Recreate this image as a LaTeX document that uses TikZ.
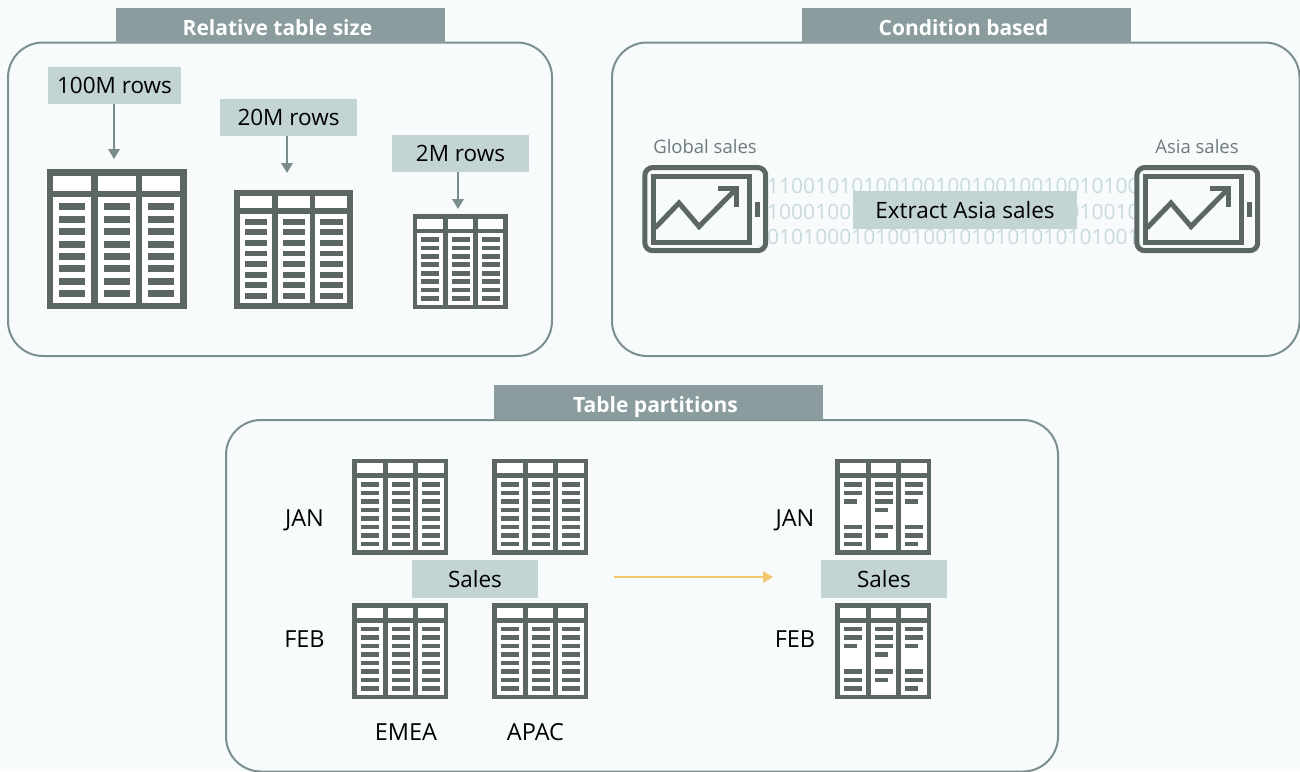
\documentclass[tikz,border=0pt]{standalone}
\usepackage{fontspec}
\setmainfont{Open Sans}
\usetikzlibrary{arrows.meta}
\definecolor{pagebg}{HTML}{F8FBFC}
\definecolor{titlefill}{HTML}{8A9C9E}
\definecolor{boxline}{HTML}{7C8F8F}
\definecolor{tabledark}{HTML}{5B6665}
\definecolor{labelfill}{HTML}{C3D4D4}
\definecolor{arrowgrey}{HTML}{7A8D8B}
\definecolor{arrowyellow}{HTML}{F2C96E}
\definecolor{bitgrey}{HTML}{C8DADA}
\definecolor{captiongrey}{HTML}{6D7B7A}
\newcommand{\tablecells}{
  \fill[tabledark] (0,0) rectangle (140,140);
  \foreach \cx in {6.8,51.5,95.8} {
    \fill[white] (\cx,6.7) rectangle +(37.5,14.7);
    \fill[white] (\cx,28) rectangle +(37.5,105.4);
  }
}
\tikzset{
  panel/.style={draw=boxline,line width=2pt,rounded corners=35pt},
  titlebar/.style={fill=titlefill,text=white,minimum width=329pt,minimum height=35pt,inner sep=0pt,text height=20pt,text depth=0pt,font=\fontsize{21}{25}\selectfont\bfseries,execute at begin node=\kern-6pt},
  rowlabel/.style={fill=labelfill,text=black,minimum height=37.5pt,inner sep=0pt,font=\fontsize{22.5}{27}\selectfont},
  plainlabel/.style={text=black,inner sep=0pt,font=\fontsize{23.5}{28}\selectfont},
  caption/.style={text=captiongrey,inner sep=0pt,font=\fontsize{18.5}{22}\selectfont},
  bits/.style={text=bitgrey,inner sep=0pt,anchor=west,font=\fontsize{21}{25}\selectfont},
  sizearrow/.style={draw=arrowgrey,line width=2pt,-{Triangle[width=11.5pt,length=10pt]}},
  fulltable/.pic={
    \tablecells
    \foreach \cx in {6.8,51.5,95.8}
      \foreach \rw in {0,...,7}
        \fill[tabledark] (\cx+5.7,34+12.4*\rw) rectangle +(26.3,7);
  },
  sparsetable/.pic={
    \tablecells
    \foreach \cx/\longrows/\shortrows in {6.8/{0,1,5,6,7}/{2},51.5/{0,1,2,5}/{3,6},95.8/{0,1,5,6}/{2,7}} {
      \foreach \rw in \longrows
        \fill[tabledark] (\cx+5.7,34+12.4*\rw) rectangle +(26.3,7);
      \foreach \rw in \shortrows
        \fill[tabledark] (\cx+5.7,34+12.4*\rw) rectangle +(19,7);
    }
  },
  tablet/.pic={
    \draw[tabledark,line width=5pt,rounded corners=8pt] (2.8,2.5) rectangle (123.7,85.7);
    \draw[tabledark,line width=5pt] (11.3,11) rectangle (107.2,77.3);
    \fill[tabledark] (113,36.5) rectangle (118,51.5);
    \draw[tabledark,line width=5pt] (13,63) -- (37,38) -- (57,61.5) -- (94,24);
    \draw[tabledark,line width=5pt] (76,23.7) -- (94.7,23.7) -- (94.7,42);
  }
}
\begin{document}
\begin{tikzpicture}[x=1pt,y=-1pt]
  \fill[pagebg] (0,0) rectangle (1300,771);
  \useasboundingbox (0,0) rectangle (1300,771);

  \draw[panel] (8,42.5) rectangle (552,356);
  \draw[panel] (612,42.5) rectangle (1299.5,356);
  \draw[panel] (226,420) rectangle (1058,771.5);
  \node[titlebar] (sizetitle) at (280.5,25.5) {Relative table size};
  \node[titlebar] (conditiontitle) at (966.5,25.5) {Condition based};
  \node[titlebar] (partitiontitle) at (658.5,402.5) {Table partitions};

  \node[rowlabel,minimum width=133pt] (rows100) at (114.5,85.5) {100M rows};
  \node[rowlabel,minimum width=137pt] (rows20) at (288.5,117.5) {20M rows};
  \node[rowlabel,minimum width=137pt] (rows2) at (460.5,153.5) {2M rows};
  \coordinate (tip100) at (114,159);
  \coordinate (tip20) at (287,173);
  \coordinate (tip2) at (458,209);
  \draw[sizearrow] (tip100 |- rows100.south) -- (tip100);
  \draw[sizearrow] (tip20 |- rows20.south) -- (tip20);
  \draw[sizearrow] (tip2 |- rows2.south) -- (tip2);
  \pic at (46.5,169.3) {fulltable};
  \pic[scale=.85] at (234,190) {fulltable};
  \pic[scale=.68] at (412.8,214) {fulltable};

  \node[bits] (bitsa) at (767,186) {1100101010010010010010010010100};
  \node[bits] (bitsb) at (767,212) {1000100110100100101001010010010};
  \node[bits] (bitsc) at (767,237) {0101000101001001010101010101001};
  \node[rowlabel,minimum width=224pt] (extract) at (965,210) {Extract Asia sales};
  \node[caption] (globalsales) at (705,147) {Global sales};
  \node[caption] (asiasales) at (1197,147) {Asia sales};
  \pic at (642,165) {tablet};
  \pic at (1134,165) {tablet};

  \pic[scale=.686] at (352.3,458.7) {fulltable};
  \pic[scale=.686] at (492.3,458.7) {fulltable};
  \pic[scale=.686] at (352.3,603.3) {fulltable};
  \pic[scale=.686] at (492.3,603.3) {fulltable};
  \pic[scale=.686] at (835.3,458.7) {sparsetable};
  \pic[scale=.686] at (835.3,603.3) {sparsetable};
  \node[rowlabel,minimum width=126pt] (salesleft) at (475,579) {Sales};
  \node[rowlabel,minimum width=126pt] (salesright) at (884,579) {Sales};
  \node[plainlabel] (janleft) at (304.5,520) {JAN};
  \node[plainlabel] (febleft) at (304.5,639) {FEB};
  \node[plainlabel] (janright) at (795,520) {JAN};
  \node[plainlabel] (febright) at (795,639) {FEB};
  \node[plainlabel] (emea) at (406,732) {EMEA};
  \node[plainlabel] (apac) at (535.5,732) {APAC};
  \coordinate (mergestart) at (614,577);
  \coordinate (mergeend) at (773,577);
  \draw[draw=arrowyellow,line width=2pt,-{Triangle[width=11.5pt,length=10pt]}] (mergestart) -- (mergeend);
\end{tikzpicture}
\end{document}
